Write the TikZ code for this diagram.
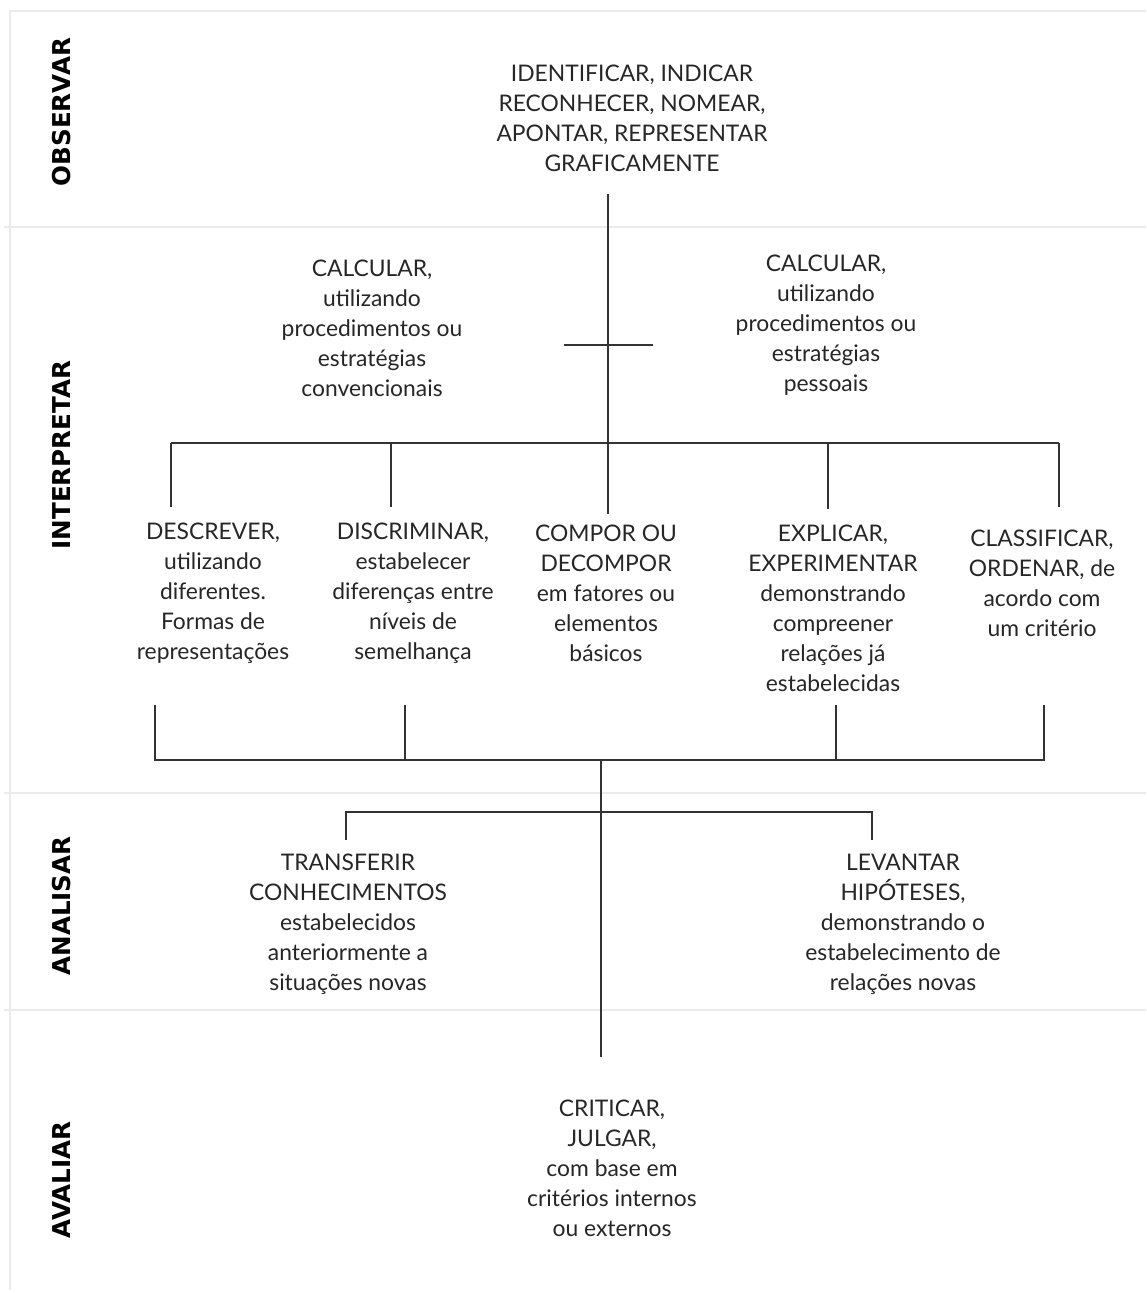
\documentclass[tikz,border=0pt]{standalone}
\usepackage{fontspec}
\setmainfont{Lato}
\newfontfamily\levelfont{DejaVu Sans}
\usepackage{tikz}
\usetikzlibrary{positioning}

\begin{document}
\begin{tikzpicture}[
    x=0.02cm, y=-0.02cm,
    verb/.style={align=center, inner sep=0pt, text=black!85, font=\fontsize{13}{17.07}\selectfont},
    level/.style={rotate=90, inner sep=0pt, text=black, font=\levelfont\fontsize{14}{17}\selectfont\bfseries},
    frame/.style={draw=black!8, line width=1pt},
    link/.style={draw=black!80, line width=1pt}
]
\useasboundingbox (0,0) rectangle (1146,1293);

% bands
\draw[frame] (1146,11) -- (10,11) -- (10,1290);
\draw[frame] (4,227) -- (1146,227);
\draw[frame] (4,793) -- (1146,793);
\draw[frame] (4,1010) -- (1146,1010);

\node[level] (obs) at (62,112) {OBSERVAR};
\node[level] (int) at (62,455) {INTERPRETAR};
\node[level] (ana) at (62,906) {ANALISAR};
\node[level] (ava) at (62,1180) {AVALIAR};

% verbs
\node[verb] (ident) at (632,118) {IDENTIFICAR, INDICAR\\RECONHECER, NOMEAR,\\APONTAR, REPRESENTAR\\GRAFICAMENTE};
\node[verb] (calcA) at (372,328) {CALCULAR,\\utilizando\\procedimentos ou\\estratégias\\convencionais};
\node[verb] (calcB) at (826,325) {CALCULAR,\\utilizando\\procedimentos ou\\estratégias\\pessoais};

\node[verb] (desc) at (213,593) {DESCREVER,\\utilizando\\diferentes.\\Formas de\\representações};
\node[verb] (disc) at (413,593) {DISCRIMINAR,\\estabelecer\\diferenças entre\\níveis de\\semelhança};
\node[verb] (comp) at (606,593) {COMPOR OU\\DECOMPOR\\em fatores ou\\elementos\\básicos};
\node[verb] (expl) at (833,608) {EXPLICAR,\\EXPERIMENTAR\\demonstrando\\compreener\\relações já\\estabelecidas};
\node[verb] (clas) at (1042,583) {CLASSIFICAR,\\ORDENAR, de\\acordo com\\um critério};

\node[verb] (tran) at (348,924) {TRANSFERIR\\CONHECIMENTOS\\estabelecidos\\anteriormente a\\situações novas};
\node[verb] (leva) at (903,924) {LEVANTAR\\HIPÓTESES,\\demonstrando o\\estabelecimento de\\relações novas};

\node[verb] (crit) at (612,1168) {CRITICAR,\\JULGAR,\\com base em\\critérios internos\\ou externos};

% tree
\coordinate (hubA) at (608,443);
\coordinate (crossL) at (564,345);
\coordinate (crossR) at (653,345);
\coordinate (d1) at (171,443);
\coordinate (d2) at (391,443);
\coordinate (d4) at (828,443);
\coordinate (d5) at (1059,443);

\draw[link] (hubA |- ident.south) ++(0,22) -- (hubA);
\draw[link] (crossL) -- (crossR);
\draw[link] (d1) -- (d5);
\draw[link, shorten >=0.3cm] (d1) -- (d1 |- desc.north);
\draw[link, shorten >=0.3cm] (d2) -- (d2 |- disc.north);
\draw[link, shorten >=0.2cm] (hubA) -- (hubA |- comp.north);
\draw[link, shorten >=0.3cm] (d4) -- (d4 |- expl.north);
\draw[link, shorten >=0.3cm] (d5) -- (d5 |- desc.north);

\coordinate (u1) at (155,760);
\coordinate (u2) at (405,760);
\coordinate (u3) at (836,760);
\coordinate (u4) at (1044,760);
\coordinate (hubB) at (601,760);
\coordinate (hubC) at (601,812);
\coordinate (hubD) at (601,1057);

\draw[link] (u1) ++(0,-55) -- (u1) -- (u4) -- ++(0,-55);
\draw[link] (u2) -- ++(0,-55);
\draw[link] (u3) -- ++(0,-55);
\draw[link] (hubB) -- (hubD);

\coordinate (aL) at (346,812);
\coordinate (aR) at (872,812);
\draw[link] (aL) ++(0,28) -- (aL) -- (aR) -- ++(0,28);
\end{tikzpicture}
\end{document}
